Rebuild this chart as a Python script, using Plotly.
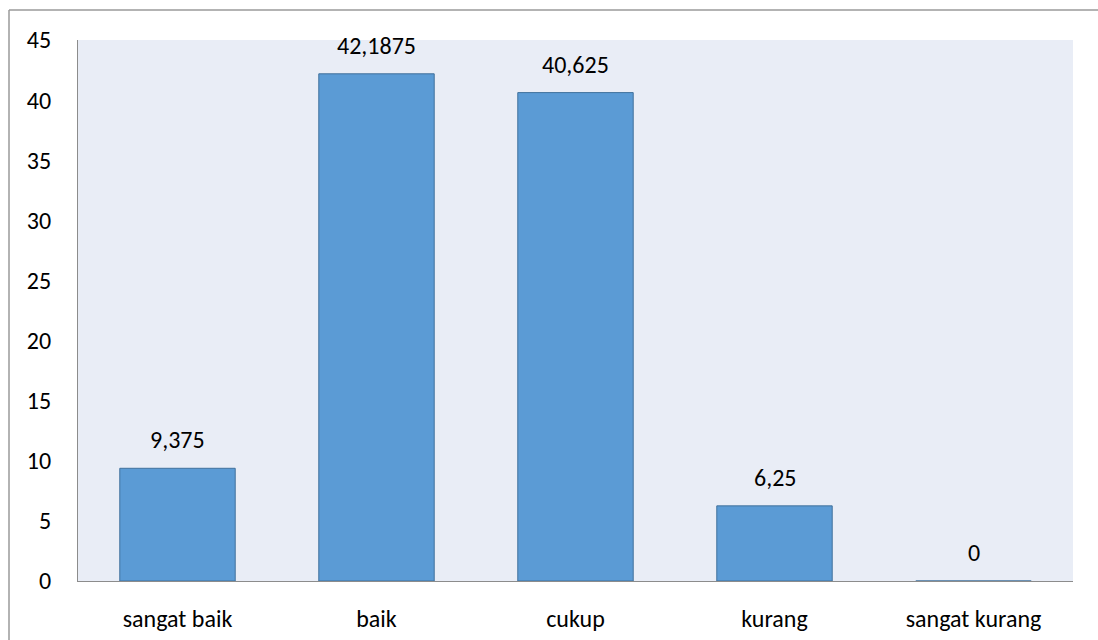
import plotly.graph_objects as go

categories = ["sangat baik", "baik", "cukup", "kurang", "sangat kurang"]
values = [9.375, 42.1875, 40.625, 6.25, 0]
labels = ["9,375", "42,1875", "40,625", "6,25", "0"]
tick_vals = [0, 5, 10, 15, 20, 25, 30, 35, 40, 45]

W, H = 1098, 640
L, R, T, B = 78, 25, 40, 59
pw, ph = W - L - R, H - T - B

FONT = "Carlito, Calibri, Lato, Open Sans, sans-serif"

fig = go.Figure(go.Bar(
    x=categories, y=values,
    marker=dict(color="#5B9BD5", line=dict(color="#41719C", width=1)),
    width=0.58,
))

for c, v, t in zip(categories, values, labels):
    fig.add_annotation(x=c, y=v, text=t, showarrow=False, yanchor="bottom",
                       yshift=12, font=dict(size=24, color="#000000", family=FONT))

bx0 = (9 - L) / pw
by1 = (T + ph - 10) / ph
fig.update_layout(
    width=W, height=H,
    margin=dict(l=L, r=R, t=T, b=B),
    paper_bgcolor="white", plot_bgcolor="#E9EDF6",
    font=dict(family=FONT, size=24, color="#000000"),
    showlegend=False,
    xaxis=dict(showline=True, linecolor="#8C8C8C", linewidth=1, ticks="",
               showgrid=False, ticklabelstandoff=16, automargin=False),
    yaxis=dict(range=[0, 45], tickvals=tick_vals, showline=True, linecolor="#8C8C8C",
               linewidth=1, showgrid=False, zeroline=False, ticks="",
               ticklabelstandoff=21, automargin=False),
    shapes=[
        dict(type="line", xref="paper", yref="paper", x0=bx0, x1=(W - L) / pw,
             y0=by1, y1=by1, line=dict(color="#9A9A9A", width=1.5)),
        dict(type="line", xref="paper", yref="paper", x0=bx0, x1=bx0,
             y0=by1, y1=-(H - T - ph) / ph, line=dict(color="#9A9A9A", width=1.5)),
    ],
)

fig.write_html(
    "out.html", config={"displayModeBar": False},
    post_script=("document.documentElement.style.overflow='hidden';"
                 "document.documentElement.style.margin='0';"
                 "document.body.style.margin='0';document.body.style.overflow='hidden';"),
)
